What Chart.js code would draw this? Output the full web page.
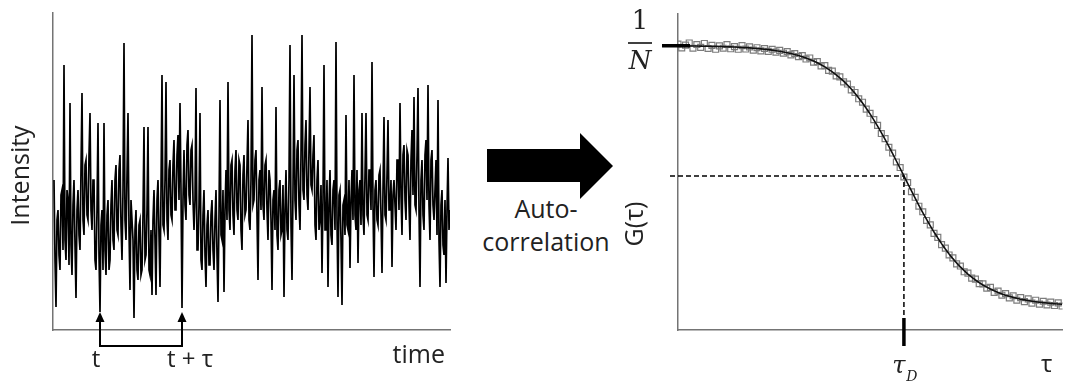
<!DOCTYPE html>
<html>
<head>
<meta charset="utf-8">
<script src="https://cdn.jsdelivr.net/npm/chart.js"></script>
<style>
  body { margin: 0; background: #fff; width: 1068px; height: 388px; position: relative; overflow: hidden; font-family: "Open Sans", sans-serif; }
  canvas { position: absolute; top: 0; }
  #trace { left: 0; }
  #acf { left: 600px; }
  .arrow-body { position: absolute; left: 487px; top: 149px; width: 93px; height: 33px; background: #000; }
  .arrow-head { position: absolute; left: 580px; top: 133px; width: 0; height: 0; border-left: 33px solid #000; border-top: 33px solid transparent; border-bottom: 33px solid transparent; }
  .caption { position: absolute; left: 466px; top: 192px; width: 160px; text-align: center; font-size: 25px; line-height: 33px; color: #222; }
</style>
</head>
<body>
<canvas id="trace" width="460" height="388"></canvas>
<div class="arrow-body"></div>
<div class="arrow-head"></div>
<div class="caption">Auto-<br>correlation</div>
<canvas id="acf" width="468" height="388"></canvas>
<script>
// fluorescence intensity trace (arbitrary counts), one value per time bin
const intensity = [
  150, 70, 23, 110, 120, 75, 60, 135, 140, 80, 265, 90, 70, 140, 130, 65, 227, 85, 55, 125,
  150, 85, 32, 120, 140, 95, 80, 160, 237, 110, 95, 165, 170, 115, 110, 175, 217, 120, 100, 150,
  150, 70, 60, 120, 207, 75, 18, 105, 120, 60, 207, 80, 55, 115, 130, 60, 70, 125, 150, 90,
  80, 150, 165, 100, 95, 160, 175, 105, 70, 140, 287, 110, 90, 155, 217, 100, 40, 130, 110, 90,
  12, 100, 120, 60, 50, 105, 110, 55, 60, 115, 203, 70, 75, 120, 203, 60, 55, 100, 35, 110,
  140, 90, 35, 130, 150, 95, 43, 140, 255, 105, 100, 150, 248, 110, 90, 160, 170, 115, 110, 165,
  190, 120, 120, 175, 195, 130, 227, 140, 22, 130, 180, 125, 110, 185, 200, 135, 125, 180, 185, 130,
  100, 130, 242, 80, 80, 125, 217, 70, 60, 115, 140, 75, 43, 105, 120, 65, 65, 115, 130, 80,
  60, 110, 140, 75, 28, 115, 230, 95, 90, 140, 38, 120, 160, 110, 248, 120, 100, 165, 170, 115,
  95, 160, 180, 120, 110, 170, 165, 100, 80, 155, 175, 115, 120, 165, 210, 110, 100, 150, 295, 125,
  130, 170, 180, 115, 50, 150, 160, 120, 243, 125, 110, 165, 170, 120, 90, 160, 150, 110, 40, 130,
  140, 100, 223, 95, 80, 140, 150, 95, 100, 145, 33, 120, 160, 100, 90, 150, 285, 105, 50, 140,
  255, 130, 110, 180, 190, 125, 100, 175, 295, 140, 130, 185, 210, 135, 120, 180, 243, 145, 140, 175,
  195, 105, 90, 150, 170, 100, 110, 145, 57, 130, 265, 100, 100, 150, 43, 125, 160, 95, 85, 140,
  150, 100, 288, 110, 33, 135, 140, 90, 25, 125, 130, 95, 215, 105, 100, 150, 62, 130, 160, 110,
  255, 115, 100, 160, 67, 140, 150, 105, 217, 115, 95, 155, 217, 115, 110, 160, 160, 120, 268, 125,
  53, 140, 150, 110, 105, 155, 160, 115, 57, 140, 213, 115, 110, 155, 210, 120, 120, 150, 63, 135,
  150, 125, 100, 170, 170, 120, 227, 135, 95, 175, 185, 130, 110, 180, 175, 125, 90, 170, 200, 135,
  233, 125, 120, 175, 242, 120, 43, 150, 170, 115, 100, 175, 190, 130, 245, 125, 90, 170, 180, 125,
  110, 140, 170, 95, 230, 90, 43, 125, 140, 85, 75, 130, 47, 120, 172, 100, 120
];
const tIndex = 46;     // time t
const tauIndex = 128;  // time t + tau

// autocorrelation: lag time (in units of tau_D), measured points and fit
const tau = [
  0.001, 0.00112, 0.00126, 0.00141, 0.00158, 0.00178, 0.002, 0.00224, 0.00251, 0.00282,
  0.00316, 0.00355, 0.00398, 0.00447, 0.00501, 0.00562, 0.00631, 0.00708, 0.00794, 0.00891,
  0.01, 0.0112, 0.0126, 0.0141, 0.0158, 0.0178, 0.02, 0.0224, 0.0251, 0.0282,
  0.0316, 0.0355, 0.0398, 0.0447, 0.0501, 0.0562, 0.0631, 0.0708, 0.0794, 0.0891,
  0.1, 0.112, 0.126, 0.141, 0.158, 0.178, 0.2, 0.224, 0.251, 0.282,
  0.316, 0.355, 0.398, 0.447, 0.501, 0.562, 0.631, 0.708, 0.794, 0.891,
  1, 1.12, 1.26, 1.41, 1.58, 1.78, 2, 2.24, 2.51, 2.82,
  3.16, 3.55, 3.98, 4.47, 5.01, 5.62, 6.31, 7.08, 7.94, 8.91,
  10, 11.2, 12.6, 14.1, 15.8, 17.8, 20, 22.4, 25.1, 28.2,
  31.6, 35.5, 39.8, 44.7, 50.1, 56.2, 63.1, 70.8, 79.4, 89.1,
  100, 112, 126
];
const gData = [
  1.086, 1.071, 1.082, 1.090, 1.070, 1.084, 1.073, 1.088, 1.069, 1.081,
  1.066, 1.079, 1.070, 1.084, 1.068, 1.076, 1.066, 1.080, 1.067, 1.075,
  1.063, 1.072, 1.060, 1.069, 1.058, 1.066, 1.055, 1.062, 1.051, 1.057,
  1.045, 1.050, 1.038, 1.042, 1.029, 1.033, 1.017, 1.019, 1.003, 1.004,
  0.986, 0.983, 0.965, 0.961, 0.942, 0.934, 0.912, 0.902, 0.878, 0.865,
  0.839, 0.823, 0.799, 0.777, 0.746, 0.727, 0.694, 0.672, 0.638, 0.617,
  0.581, 0.560, 0.525, 0.504, 0.470, 0.449, 0.416, 0.399, 0.367, 0.352,
  0.324, 0.311, 0.285, 0.274, 0.251, 0.243, 0.221, 0.216, 0.197, 0.193,
  0.176, 0.175, 0.159, 0.162, 0.143, 0.148, 0.132, 0.138, 0.122, 0.130,
  0.113, 0.123, 0.108, 0.118, 0.102, 0.113, 0.098, 0.109, 0.095, 0.106,
  0.093, 0.103, 0.091
];
const gFit = [
  1.0790, 1.0789, 1.0788, 1.0786, 1.0784, 1.0782, 1.0780, 1.0778, 1.0775, 1.0772,
  1.0769, 1.0765, 1.0761, 1.0756, 1.0751, 1.0745, 1.0738, 1.0730, 1.0722, 1.0713,
  1.0702, 1.0690, 1.0677, 1.0662, 1.0646, 1.0627, 1.0606, 1.0583, 1.0558, 1.0529,
  1.0497, 1.0461, 1.0421, 1.0376, 1.0328, 1.0273, 1.0212, 1.0146, 1.0072, 0.9990,
  0.9900, 0.9803, 0.9692, 0.9577, 0.9449, 0.9304, 0.9150, 0.8988, 0.8814, 0.8622,
  0.8423, 0.8206, 0.7982, 0.7742, 0.7496, 0.7238, 0.6970, 0.6696, 0.6418, 0.6135,
  0.5850, 0.5570, 0.5281, 0.5008, 0.4737, 0.4461, 0.4200, 0.3956, 0.3720, 0.3492,
  0.3280, 0.3076, 0.2888, 0.2710, 0.2547, 0.2395, 0.2254, 0.2125, 0.2007, 0.1899,
  0.1800, 0.1711, 0.1628, 0.1556, 0.1489, 0.1427, 0.1371, 0.1323, 0.1279, 0.1239,
  0.1203, 0.1171, 0.1143, 0.1117, 0.1094, 0.1073, 0.1054, 0.1038, 0.1023, 0.1010,
  0.0998, 0.0988, 0.0978
];
const tauD = 1;

const axisBorder = { color: '#747474', width: 1.5 };
const noGrid = { display: false, drawTicks: false };
const SANS = '"Open Sans", sans-serif';
const SERIF = '"DejaVu Serif", "Liberation Serif", serif';

function arrowUp(ctx, x, tipY) {
  ctx.beginPath();
  ctx.moveTo(x, tipY);
  ctx.lineTo(x - 4.5, tipY + 10);
  ctx.lineTo(x + 4.5, tipY + 10);
  ctx.closePath();
  ctx.fill();
}

const traceMarks = {
  id: 'traceMarks',
  afterDraw(chart) {
    const { ctx, chartArea: a, scales: { x } } = chart;
    const x1 = x.getPixelForValue(tIndex);
    const x2 = x.getPixelForValue(tauIndex);
    const tip = a.bottom - 18;
    const base = a.bottom + 16;
    ctx.save();
    ctx.strokeStyle = '#000';
    ctx.fillStyle = '#000';
    ctx.lineWidth = 2;
    ctx.beginPath();
    ctx.moveTo(x1, tip + 8);
    ctx.lineTo(x1, base);
    ctx.lineTo(x2, base);
    ctx.lineTo(x2, tip + 8);
    ctx.stroke();
    arrowUp(ctx, x1, tip);
    arrowUp(ctx, x2, tip);

    ctx.fillStyle = '#222';
    ctx.font = '24px ' + SANS;
    ctx.textBaseline = 'middle';
    ctx.textAlign = 'center';
    ctx.fillText('t', x1 - 4, base + 14);
    ctx.fillText('t + τ', x2 + 8, base + 14);
    ctx.font = '25px ' + SANS;
    ctx.textAlign = 'right';
    ctx.fillText('time', a.right - 5, a.bottom + 26);

    ctx.translate(22, (a.top + a.bottom) / 2 + 4);
    ctx.rotate(-Math.PI / 2);
    ctx.textAlign = 'center';
    ctx.fillText('Intensity', 0, 0);
    ctx.restore();
  }
};

new Chart(document.getElementById('trace'), {
  type: 'line',
  data: {
    datasets: [{
      data: intensity.map((v, i) => ({ x: i, y: v })),
      borderColor: '#000',
      borderWidth: 1.7,
      pointRadius: 0,
      tension: 0
    }]
  },
  options: {
    responsive: false,
    animation: false,
    events: [],
    layout: { padding: { left: 53, right: 10, top: 13, bottom: 58 } },
    plugins: { legend: { display: false }, tooltip: { enabled: false } },
    scales: {
      x: { type: 'linear', min: -1, max: 396, ticks: { display: false }, grid: noGrid, border: axisBorder },
      y: { min: 0, max: 317, ticks: { display: false }, grid: noGrid, border: axisBorder }
    }
  },
  plugins: [traceMarks]
});

const acfMarks = {
  id: 'acfMarks',
  afterDraw(chart) {
    const { ctx, chartArea: a, scales: { x, y } } = chart;
    const k = tau.indexOf(tauD);
    const xd = x.getPixelForValue(tauD);
    const yd = y.getPixelForValue(gFit[k]);
    const yN = y.getPixelForValue(gFit[0]);
    ctx.save();
    ctx.strokeStyle = '#000';
    ctx.lineWidth = 1.5;
    ctx.setLineDash([5, 3]);
    ctx.beginPath();
    ctx.moveTo(a.left - 8, yd);
    ctx.lineTo(xd, yd);
    ctx.lineTo(xd, a.bottom);
    ctx.stroke();
    ctx.setLineDash([]);

    ctx.lineWidth = 3.5;
    ctx.beginPath();
    ctx.moveTo(xd, a.bottom - 12);
    ctx.lineTo(xd, a.bottom + 16);
    ctx.moveTo(a.left - 16, yN);
    ctx.lineTo(a.left + 12, yN);
    ctx.stroke();

    // 1/N
    ctx.fillStyle = '#222';
    ctx.textAlign = 'center';
    ctx.textBaseline = 'middle';
    ctx.font = '26px ' + SERIF;
    ctx.fillText('1', a.left - 38, a.top + 8);
    ctx.lineWidth = 1.5;
    ctx.beginPath();
    ctx.moveTo(a.left - 50, a.top + 29);
    ctx.lineTo(a.left - 26, a.top + 29);
    ctx.stroke();
    ctx.font = 'italic 26px ' + SERIF;
    ctx.fillText('N', a.left - 38, a.top + 48);

    // tau_D
    ctx.font = 'italic 24px ' + SERIF;
    ctx.fillText('τ', xd - 5, a.bottom + 37);
    ctx.font = 'italic 14px ' + SERIF;
    ctx.fillText('D', xd + 8, a.bottom + 47);

    ctx.font = '24px ' + SANS;
    ctx.fillText('τ', a.right - 16, a.bottom + 35);

    ctx.translate(a.left - 42, 224);
    ctx.rotate(-Math.PI / 2);
    ctx.font = '25px ' + SANS;
    ctx.fillText('G(τ)', 0, 0);
    ctx.restore();
  }
};

new Chart(document.getElementById('acf'), {
  type: 'line',
  data: {
    datasets: [
      {
        data: tau.map((t, i) => ({ x: t, y: gFit[i] })),
        borderColor: '#111',
        borderWidth: 1.6,
        pointRadius: 0,
        tension: 0
      },
      {
        data: tau.map((t, i) => ({ x: t, y: gData[i] })),
        showLine: false,
        pointStyle: 'rect',
        pointRadius: 4.2,
        borderWidth: 1.2,
        pointBorderColor: '#7c7c7c',
        pointBackgroundColor: 'rgba(0,0,0,0)'
      }
    ]
  },
  options: {
    responsive: false,
    animation: false,
    events: [],
    layout: { padding: { left: 78, right: 0, top: 14, bottom: 58 } },
    plugins: { legend: { display: false }, tooltip: { enabled: false } },
    scales: {
      x: { type: 'logarithmic', min: 0.001, max: 128, ticks: { display: false }, grid: noGrid, border: axisBorder },
      y: { min: 0, max: 1.2, ticks: { display: false }, grid: noGrid, border: axisBorder }
    }
  },
  plugins: [acfMarks]
});
</script>
</body>
</html>
